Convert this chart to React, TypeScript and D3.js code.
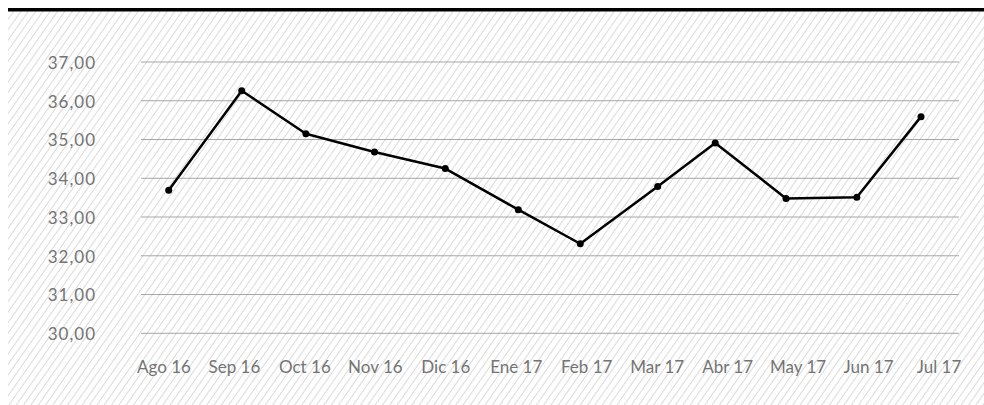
import React, { useEffect } from 'react';
import * as d3 from 'd3';

// Monthly values (dates are the reading days)
const dates = ["2016-08-01", "2016-09-03", "2016-10-02", "2016-11-02", "2016-12-04", "2017-01-06",
  "2017-02-03", "2017-03-10", "2017-04-05", "2017-05-07", "2017-06-08", "2017-07-07"];
const values = [33.69, 36.26, 35.15, 34.68, 34.25, 33.19, 32.31, 33.79, 34.91, 33.48, 33.51, 35.59];
const monthLabels = ["Ago 16", "Sep 16", "Oct 16", "Nov 16", "Dic 16", "Ene 17",
  "Feb 17", "Mar 17", "Abr 17", "May 17", "Jun 17", "Jul 17"];
const yTicks = [30, 31, 32, 33, 34, 35, 36, 37];

const W = 976;
const H = 397;
const FONT = "Lato, 'Open Sans', sans-serif";
const TEXT = "#747474";

const parse = d3.timeParse("%Y-%m-%d");

const App = () => {
  // keep the page from scrolling (the chart fills the window)
  useEffect(() => {
    document.body.style.overflow = 'hidden';
  }, []);

  const data = dates.map((d, i) => ({ date: parse(d) as Date, value: values[i] }));

  const x = d3.scaleTime()
    .domain(d3.extent(data, d => d.date) as [Date, Date])
    .range([160.7, 913]);

  const xLabel = d3.scalePoint<string>()
    .domain(monthLabels)
    .range([156, 931]);

  const y = d3.scaleLinear().domain([30, 37]).range([325.3, 54]);

  const line = d3.line<{ date: Date; value: number }>()
    .x(d => x(d.date))
    .y(d => y(d.value));

  const fmt = (v: number) => d3.format(".2f")(v).replace(".", ",");

  return (
    <svg width={W} height={H}
      style={{ display: 'block', position: 'absolute', left: 8, top: 8 }}>
      <defs>
        <pattern id="hatch" patternUnits="userSpaceOnUse" width={6} height={6}
          patternTransform="rotate(35)">
          <line x1={0.5} y1={0} x2={0.5} y2={6} stroke="#dadada" strokeWidth={1} />
        </pattern>
      </defs>
      <rect x={0} y={0} width={W} height={H} fill="#fff" />
      <rect x={0} y={0} width={W} height={H} fill="url(#hatch)" />
      <rect x={0} y={0} width={W} height={3.5} fill="#000" />

      {yTicks.map(t => (
        <g key={t}>
          <line x1={133} x2={951} y1={y(t)} y2={y(t)} stroke="#a6a6a6" strokeWidth={1} />
          <text x={88} y={y(t)} dy="0.4em" textAnchor="end" fontFamily={FONT}
            fontSize={17} letterSpacing={1} fill={TEXT}>{fmt(t)}</text>
        </g>
      ))}

      {monthLabels.map(m => (
        <text key={m} x={xLabel(m)} y={365} textAnchor="middle" fontFamily={FONT}
          fontSize={17} fill={TEXT}>{m}</text>
      ))}

      <path d={line(data) || ''} fill="none" stroke="#000" strokeWidth={2.5}
        strokeLinejoin="round" />
      {data.map((d, i) => (
        <circle key={i} cx={x(d.date)} cy={y(d.value)} r={3.5} fill="#000" />
      ))}
    </svg>
  );
};

export default App;
